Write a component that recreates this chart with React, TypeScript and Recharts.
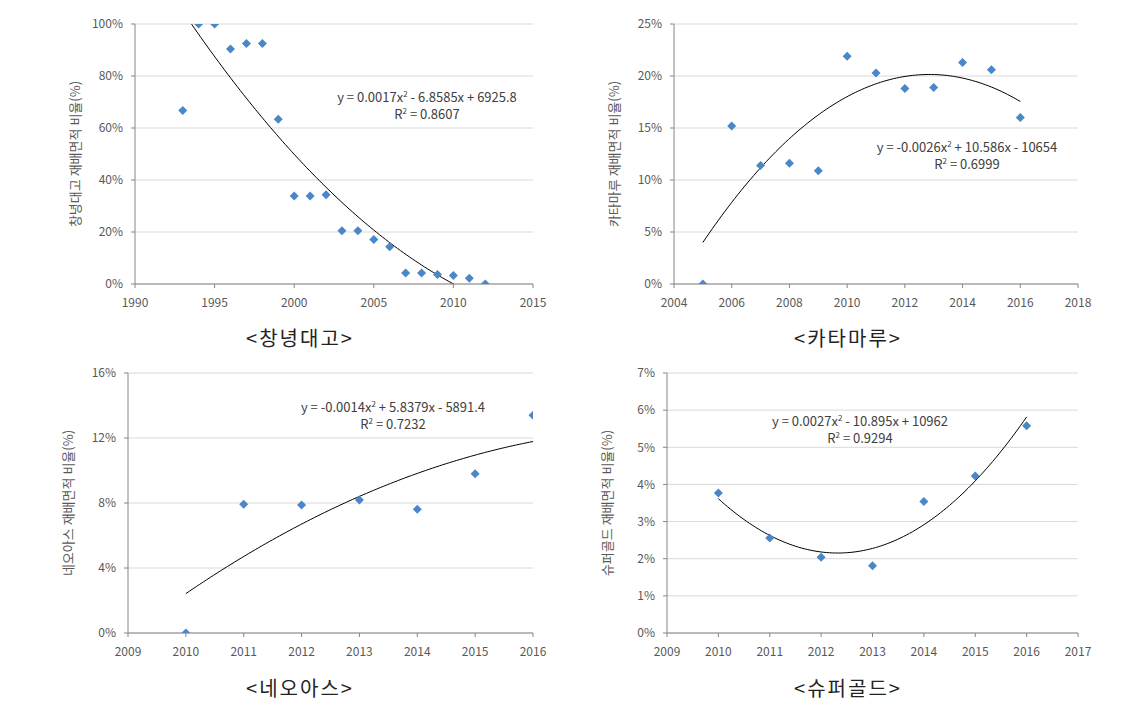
import React from 'react';
import { ComposedChart, Scatter, Line, XAxis, YAxis, CartesianGrid } from 'recharts';

// 창녕대고
const changYears = [1993, 1994, 1995, 1996, 1997, 1998, 1999, 2000, 2001, 2002, 2003, 2004, 2005, 2006, 2007, 2008, 2009, 2010, 2011, 2012];
const changShare = [66.7, 100, 100, 90.4, 92.5, 92.5, 63.4, 33.8, 33.8, 34.3, 20.5, 20.5, 17.1, 14.3, 4.2, 4.2, 3.7, 3.3, 2.2, 0];

// 카타마루
const kataYears = [2005, 2006, 2007, 2008, 2009, 2010, 2011, 2012, 2013, 2014, 2015, 2016];
const kataShare = [0, 15.2, 11.4, 11.6, 10.9, 21.9, 20.3, 18.8, 18.9, 21.3, 20.6, 16.0];

// 네오아스
const neoYears = [2010, 2011, 2012, 2013, 2014, 2015, 2016];
const neoShare = [0, 7.93, 7.87, 8.18, 7.61, 9.8, 13.4];

// 슈퍼골드
const superYears = [2010, 2011, 2012, 2013, 2014, 2015, 2016];
const superShare = [3.77, 2.56, 2.04, 1.81, 3.54, 4.23, 5.58];

const changXTicks = [1990, 1995, 2000, 2005, 2010, 2015];
const changYTicks = [0, 20, 40, 60, 80, 100];
const kataXTicks = [2004, 2006, 2008, 2010, 2012, 2014, 2016, 2018];
const kataYTicks = [0, 5, 10, 15, 20, 25];
const neoXTicks = [2009, 2010, 2011, 2012, 2013, 2014, 2015, 2016];
const neoYTicks = [0, 4, 8, 12, 16];
const superXTicks = [2009, 2010, 2011, 2012, 2013, 2014, 2015, 2016, 2017];
const superYTicks = [0, 1, 2, 3, 4, 5, 6, 7];

const KR = '"Noto Sans CJK KR", "Noto Sans", sans-serif';
const AXIS = '#868686';
const TEXT = '#595959';
const MARKER = '#4A86C8';

// least-squares quadratic fit (what the spreadsheet trendline does)
function quadFit(xs: number[], ys: number[]) {
  const m = xs.reduce((a, b) => a + b, 0) / xs.length;
  const S = [0, 0, 0, 0, 0];
  const T = [0, 0, 0];
  xs.forEach((x, i) => {
    const t = x - m;
    for (let k = 0; k < 5; k++) S[k] += Math.pow(t, k);
    for (let k = 0; k < 3; k++) T[k] += ys[i] * Math.pow(t, k);
  });
  const A = [
    [S[0], S[1], S[2], T[0]],
    [S[1], S[2], S[3], T[1]],
    [S[2], S[3], S[4], T[2]],
  ];
  for (let c = 0; c < 3; c++) {
    for (let r = c + 1; r < 3; r++) {
      const f = A[r][c] / A[c][c];
      for (let k = c; k < 4; k++) A[r][k] -= f * A[c][k];
    }
  }
  const coef = [0, 0, 0];
  for (let r = 2; r >= 0; r--) {
    let s = A[r][3];
    for (let k = r + 1; k < 3; k++) s -= A[r][k] * coef[k];
    coef[r] = s / A[r][r];
  }
  const lo = Math.min(...xs);
  const hi = Math.max(...xs);
  const out: { x: number; y: number }[] = [];
  for (let i = 0; i <= 100; i++) {
    const x = lo + ((hi - lo) * i) / 100;
    const t = x - m;
    out.push({ x, y: coef[0] + coef[1] * t + coef[2] * t * t });
  }
  return out;
}

const Diamond = (props: any) => {
  const { cx, cy } = props;
  const r = 4.5;
  return <polygon points={`${cx},${cy - r} ${cx + r},${cy} ${cx},${cy + r} ${cx - r},${cy}`} fill={MARKER} />;
};

interface PanelProps {
  left: number;
  top: number;
  mLeft: number;
  mTop: number;
  years: number[];
  share: number[];
  xTicks: number[];
  yTicks: number[];
  yLabel: string;
  caption: string;
  captionX: number;
  eq: React.ReactNode;
  r2: string;
  eqX: number;
  eqY: number;
}

const W = 560;
const H = 320;
const Y_W = 70;
const X_H = 25;

const sup = (t: string) => <sup style={{ fontSize: 8, lineHeight: 0 }}>{t}</sup>;

const Panel: React.FC<PanelProps> = (p) => {
  const pts = p.years.map((x, i) => ({ x, y: p.share[i] }));
  const trend = quadFit(p.years, p.share);
  return (
    <div style={{ position: 'absolute', left: p.left, top: p.top, width: W, height: H + 50 }}>
      <ComposedChart
        width={W}
        height={H}
        margin={{ left: p.mLeft - Y_W, top: p.mTop, right: p.left === 0 ? 27 : 42, bottom: H - 260 - p.mTop - X_H }}
      >
        <CartesianGrid vertical={false} stroke="#D9D9D9" />
        <XAxis
          type="number"
          dataKey="x"
          domain={[p.xTicks[0], p.xTicks[p.xTicks.length - 1]]}
          ticks={p.xTicks}
          height={X_H}
          stroke={AXIS}
          tickSize={4}
          tickMargin={10}
          tick={{ fill: TEXT, fontSize: 12, fontFamily: KR }}
          allowDataOverflow
        />
        <YAxis
          type="number"
          dataKey="y"
          domain={[p.yTicks[0], p.yTicks[p.yTicks.length - 1]]}
          ticks={p.yTicks}
          width={Y_W}
          stroke={AXIS}
          tickSize={4}
          tickMargin={8}
          tickFormatter={(v: number) => `${v}%`}
          tick={{ fill: TEXT, fontSize: 12, fontFamily: KR }}
          allowDataOverflow
        />
        <Line data={trend} dataKey="y" stroke="#000" strokeWidth={1} dot={false} isAnimationActive={false} type="linear" />
        <Scatter data={pts} dataKey="y" shape={<Diamond />} isAnimationActive={false} />
      </ComposedChart>
      <div
        style={{
          position: 'absolute',
          left: p.mLeft - 60 - 120,
          top: p.mTop + 130 - 10,
          width: 240,
          height: 20,
          transform: 'rotate(-90deg)',
          textAlign: 'center',
          fontFamily: KR,
          fontSize: 13,
          color: TEXT,
          lineHeight: '20px',
          whiteSpace: 'nowrap',
        }}
      >
        {p.yLabel}
      </div>
      <div
        style={{
          position: 'absolute',
          left: p.eqX - 150,
          top: p.eqY,
          width: 300,
          textAlign: 'center',
          fontFamily: KR,
          fontSize: 13,
          color: '#404040',
          lineHeight: '17px',
          whiteSpace: 'nowrap',
        }}
      >
        <div>{p.eq}</div>
        <div>
          R{sup('2')} = {p.r2}
        </div>
      </div>
      <div
        style={{
          position: 'absolute',
          left: p.captionX - 100,
          top: 325,
          width: 200,
          textAlign: 'center',
          fontFamily: KR,
          fontSize: 20,
          letterSpacing: 2,
          color: '#222',
          lineHeight: '26px',
        }}
      >
        {p.caption}
      </div>
    </div>
  );
};

export default function App() {
  return (
    <div style={{ position: 'absolute', left: 0, top: 0, width: 1141, height: 710, background: '#fff' }}>
      <Panel
        left={0}
        top={0}
        mLeft={135}
        mTop={24}
        years={changYears}
        share={changShare}
        xTicks={changXTicks}
        yTicks={changYTicks}
        yLabel="창녕대고 재배면적 비율(%)"
        caption="<창녕대고>"
        captionX={300}
        eq={<>y = 0.0017x{sup('2')} - 6.8585x + 6925.8</>}
        r2="0.8607"
        eqX={427}
        eqY={88}
      />
      <Panel
        left={560}
        top={0}
        mLeft={114}
        mTop={24}
        years={kataYears}
        share={kataShare}
        xTicks={kataXTicks}
        yTicks={kataYTicks}
        yLabel="카타마루 재배면적 비율(%)"
        caption="<카타마루>"
        captionX={288}
        eq={<>y = -0.0026x{sup('2')} + 10.586x - 10654</>}
        r2="0.6999"
        eqX={407}
        eqY={138}
      />
      <Panel
        left={0}
        top={350}
        mLeft={128}
        mTop={23}
        years={neoYears}
        share={neoShare}
        xTicks={neoXTicks}
        yTicks={neoYTicks}
        yLabel="네오아스 재배면적 비율(%)"
        caption="<네오아스>"
        captionX={300}
        eq={<>y = -0.0014x{sup('2')} + 5.8379x - 5891.4</>}
        r2="0.7232"
        eqX={393}
        eqY={48}
      />
      <Panel
        left={560}
        top={350}
        mLeft={107}
        mTop={23}
        years={superYears}
        share={superShare}
        xTicks={superXTicks}
        yTicks={superYTicks}
        yLabel="슈퍼골드 재배면적 비율(%)"
        caption="<슈퍼골드>"
        captionX={288}
        eq={<>y = 0.0027x{sup('2')} - 10.895x + 10962</>}
        r2="0.9294"
        eqX={300}
        eqY={62}
      />
    </div>
  );
}
